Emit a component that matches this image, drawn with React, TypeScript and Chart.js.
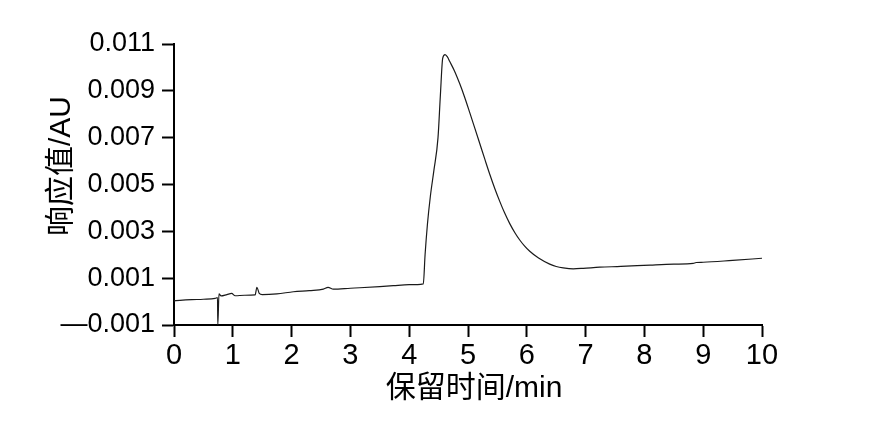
import { useEffect, useRef } from "react";
import { Chart, registerables } from "chart.js";

Chart.register(...registerables);

// retention time (min)
const retentionTime = [
  0.0, 0.1, 0.3, 0.5, 0.7, 0.74, 0.745, 0.765, 0.8, 0.9, 0.98, 1.04, 1.2, 1.38, 1.41, 1.45, 1.5,
  1.75, 2.03, 2.3, 2.54, 2.62, 2.71, 3.0, 3.16, 3.5, 3.73, 4.0, 4.24, 4.27, 4.31, 4.36, 4.42,
  4.49, 4.53, 4.57, 4.61, 4.65, 4.69, 4.77, 4.86, 4.94, 5.03, 5.11, 5.2, 5.29, 5.37, 5.46, 5.54,
  5.62, 5.71, 5.8, 5.88, 5.96, 6.05, 6.2, 6.39, 6.5, 6.62, 6.79, 6.96, 7.24, 7.6, 8.1, 8.5, 8.83,
  8.88, 9.0, 9.5, 10.0,
];

// response (AU)
const response = [
  0.00003, 0.00005, 0.00008, 0.0001, 0.00014, 0.00017, -0.001, 0.00033, 0.00024, 0.0003, 0.00035,
  0.00025, 0.00027, 0.00029, 0.00061, 0.00035, 0.0003, 0.00033, 0.00042, 0.00047, 0.00053, 0.00061,
  0.00053, 0.00057, 0.00059, 0.00064, 0.00068, 0.00072, 0.00076, 0.002, 0.0033, 0.0045, 0.0056,
  0.007, 0.0088, 0.0104, 0.01055, 0.01045, 0.01025, 0.00985, 0.0093, 0.00875, 0.00807, 0.00745,
  0.00675, 0.00605, 0.00544, 0.0048, 0.00428, 0.0038, 0.00333, 0.00293, 0.00263, 0.00238, 0.00215,
  0.00186, 0.0016, 0.0015, 0.00144, 0.0014, 0.00142, 0.00147, 0.0015, 0.00156, 0.0016, 0.00163,
  0.00167, 0.00168, 0.00176, 0.00185,
];

const xTicks = [0, 1, 2, 3, 4, 5, 6, 7, 8, 9, 10];
const yTicks = [-0.001, 0.001, 0.003, 0.005, 0.007, 0.009, 0.011];
const yTickLabels = ["—0.001", "0.001", "0.003", "0.005", "0.007", "0.009", "0.011"];
const xTitle = "保留时间/min";
const yTitle = "响应值/AU";

const FONT = "'Liberation Sans', Arial, 'Noto Sans CJK SC', sans-serif";

export default function App() {
  const ref = useRef<HTMLCanvasElement | null>(null);

  useEffect(() => {
    if (!ref.current) return;
    const titlePlugin = {
      id: "axisTitles",
      afterDraw(chart: any) {
        const ctx = chart.ctx;
        ctx.save();
        ctx.fillStyle = "#000";
        ctx.font = `30px ${FONT}`;
        ctx.textAlign = "center";
        ctx.textBaseline = "middle";
        ctx.fillText(xTitle, 474, 389);
        ctx.translate(62, 166);
        ctx.rotate(-Math.PI / 2);
        ctx.fillText(yTitle, 0, 0);
        ctx.restore();
      },
    };
    const chart = new Chart(ref.current, {
      type: "line",
      data: {
        datasets: [
          {
            data: retentionTime.map((t, i) => ({ x: t, y: response[i] })),
            borderColor: "#1a1a1a",
            borderWidth: 1.2,
            pointRadius: 0,
            cubicInterpolationMode: "monotone",
            fill: false,
          },
        ],
      },
      options: {
        animation: false,
        responsive: true,
        maintainAspectRatio: false,
        layout: { padding: { left: 0, top: 44, right: 119, bottom: 0 } },
        plugins: { legend: { display: false }, tooltip: { enabled: false } },
        scales: {
          x: {
            type: "linear",
            min: 0,
            max: 10,
            afterFit: (s: any) => {
              s.height = 100;
            },
            afterBuildTicks: (s: any) => {
              s.ticks = xTicks.map((v) => ({ value: v }));
            },
            border: { display: true, color: "#000", width: 2 },
            grid: {
              display: true,
              drawOnChartArea: false,
              drawTicks: true,
              tickLength: 12,
              tickWidth: 2,
              tickColor: "#000",
            },
            ticks: {
              color: "#000",
              padding: 2,
              maxRotation: 0,
              autoSkip: false,
              font: { family: FONT, size: 29 },
              callback: (v: any) => String(v),
            },
          },
          y: {
            type: "linear",
            min: -0.001,
            max: 0.011,
            afterFit: (s: any) => {
              s.width = 174;
            },
            afterBuildTicks: (s: any) => {
              s.ticks = yTicks.map((v) => ({ value: v }));
            },
            border: { display: true, color: "#000", width: 2 },
            grid: {
              display: true,
              drawOnChartArea: false,
              drawTicks: true,
              tickLength: 12,
              tickWidth: 2,
              tickColor: "#000",
            },
            ticks: {
              color: "#000",
              padding: 7,
              autoSkip: false,
              font: { family: FONT, size: 27 },
              callback: (v: any) => {
                const i = yTicks.findIndex((t) => Math.abs(t - v) < 1e-9);
                return i >= 0 ? yTickLabels[i] : "";
              },
            },
          },
        },
      },
      plugins: [titlePlugin],
    } as any);
    return () => chart.destroy();
  }, []);

  return (
    <div style={{ position: "absolute", left: 0, top: 0, width: 881, height: 425, background: "#fff" }}>
      <canvas ref={ref} />
    </div>
  );
}
